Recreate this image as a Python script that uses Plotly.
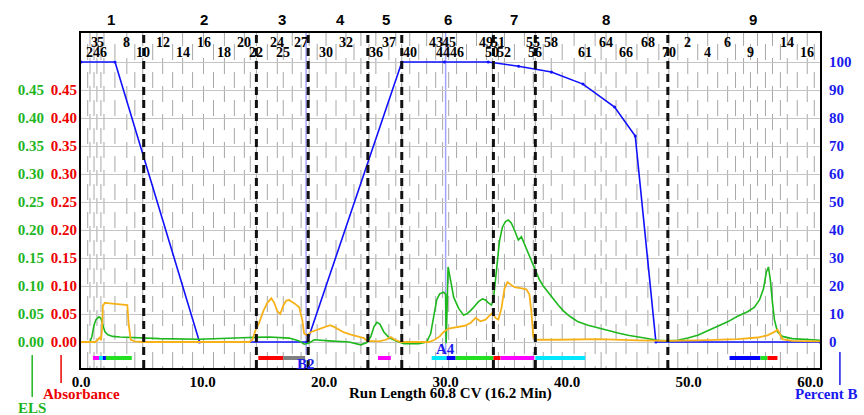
import plotly.graph_objects as go

# ---------------- chromatogram data (x in column volumes, CV) ----------------
# ELS detector trace
els_x = [0.0, 0.74, 0.90, 1.07, 1.23, 1.48, 1.64, 1.80, 1.97, 2.21, 2.62, 3.20, 4.02, 5.08,
         6.48, 9.75, 12.2, 13.85, 15.49, 17.13, 17.95, 18.36, 18.77, 19.18, 20.41, 22.05,
         23.03, 23.52, 23.85, 24.10, 24.34, 24.59, 24.92, 25.33, 25.90, 26.56, 27.79, 28.44,
         28.77, 29.02, 29.26, 29.51, 29.84, 30.00, 30.04, 30.12, 30.20, 30.41, 30.66, 31.07,
         31.48, 31.72, 32.05, 32.38, 32.70, 33.03, 33.28, 33.52, 33.77, 33.93, 34.10, 34.26,
         34.43, 34.67, 34.92, 35.16, 35.41, 35.66, 35.82, 35.98, 36.23, 36.48, 36.72, 36.97,
         37.21, 37.46, 37.70, 38.03, 38.44, 38.85, 39.26, 39.67, 40.08, 40.49, 40.90, 41.72,
         42.54, 43.36, 44.18, 45.00, 45.82, 46.64, 47.46, 48.28, 49.10, 49.92, 50.74, 51.56,
         52.38, 53.20, 54.02, 54.84, 55.41, 55.82, 56.15, 56.39, 56.56, 56.72, 56.89, 57.05,
         57.30, 57.70, 58.52, 59.75, 60.8]
els_y = [0.0, 0.0, 0.010, 0.030, 0.040, 0.045, 0.042, 0.028, 0.018, 0.013, 0.010, 0.009, 0.008, 0.007,
         0.006, 0.005, 0.006, 0.008, 0.009, 0.007, 0.002, -0.004, -0.002, 0.004, 0.002, 0.0,
         -0.005, -0.001, 0.010, 0.027, 0.035, 0.032, 0.018, 0.008, 0.002, -0.003, -0.003, 0.0,
         0.015, 0.045, 0.075, 0.086, 0.089, 0.085, -0.002, 0.060, 0.134, 0.110, 0.080, 0.060,
         0.048, 0.050, 0.056, 0.064, 0.072, 0.077, 0.075, 0.070, 0.066, 0.075, 0.110, 0.150,
         0.180, 0.205, 0.215, 0.218, 0.212, 0.200, 0.190, 0.182, 0.188, 0.175, 0.160, 0.148,
         0.138, 0.122, 0.112, 0.100, 0.088, 0.078, 0.066, 0.056, 0.048, 0.042, 0.036, 0.030,
         0.025, 0.020, 0.016, 0.012, 0.009, 0.006, 0.003, 0.002, 0.003, 0.007, 0.012, 0.020,
         0.028, 0.036, 0.046, 0.054, 0.062, 0.075, 0.095, 0.125, 0.134, 0.110, 0.070, 0.040,
         0.018, 0.010, 0.006, 0.004, 0.003]

# UV absorbance trace
abs_x = [0.0, 1.15, 1.39, 1.56, 1.64, 1.72, 1.80, 1.97, 2.38, 2.79, 3.20, 3.61, 3.81, 3.93,
         4.10, 4.43, 5.08, 13.85, 14.10, 14.34, 14.67, 15.00, 15.33, 15.66, 15.90, 16.15,
         16.39, 16.64, 16.89, 17.13, 17.38, 17.62, 17.95, 18.20, 18.36, 18.61, 18.93, 19.43,
         20.00, 20.49, 20.82, 21.23, 21.64, 22.21, 22.87, 23.28, 23.52, 24.51, 25.08, 25.49,
         25.82, 26.31, 28.61, 29.10, 29.51, 29.84, 30.25, 30.90, 31.56, 32.05, 32.46, 32.87,
         33.28, 33.61, 33.85, 34.10, 34.34, 34.59, 34.84, 35.08, 35.33, 35.66, 36.15, 36.64,
         36.89, 37.05, 37.21, 37.38, 39.26, 42.54, 45.82, 48.28, 50.74, 54.02, 55.66, 56.48,
         57.05, 57.30, 57.46, 57.70, 58.52, 60.8]
abs_y = [0.0, 0.0, 0.004, 0.009, 0.003, 0.020, 0.065, 0.070, 0.069, 0.068, 0.068, 0.067, 0.066, 0.030,
         0.004, 0.001, 0.0, 0.0, 0.004, 0.020, 0.035, 0.055, 0.070, 0.078, 0.070, 0.055,
         0.050, 0.065, 0.074, 0.075, 0.072, 0.068, 0.062, 0.040, 0.015, 0.012, 0.018, 0.022,
         0.026, 0.030, 0.027, 0.022, 0.017, 0.013, 0.010, 0.007, 0.002, 0.001, 0.004, 0.009,
         0.004, 0.0, 0.0, 0.004, 0.010, 0.018, 0.024, 0.026, 0.029, 0.034, 0.043, 0.037,
         0.040, 0.047, 0.052, 0.043, 0.040, 0.060, 0.095, 0.107, 0.103, 0.098, 0.096, 0.094,
         0.085, 0.055, 0.010, 0.004, 0.004, 0.005, 0.003, 0.002, 0.003, 0.005, 0.008, 0.012,
         0.018, 0.022, 0.016, 0.005, 0.002, 0.001]

# Gradient programme (% solvent B)
pctb_x = [0.0, 2.8, 9.75, 18.6, 26.4, 29.9, 33.5, 36.0, 38.7, 41.3, 43.9, 45.6, 47.3, 60.8]
pctb_y = [100, 100, 0, 0, 100, 100, 100, 98.5, 96.4, 92.1, 83.9, 73.6, 0, 0]

# Fraction collector: tube change positions (CV)
rack1_tubes = [0.55, 0.74, 1.07, 1.31, 1.64, 1.89, 2.79, 3.77, 4.43, 5.08,
               5.90, 6.72, 7.54, 8.36, 9.18, 10.08, 10.90, 11.80, 12.62, 13.44,
               13.93, 14.43, 15.33, 16.15, 16.64, 17.38, 18.11, 18.77, 19.43, 20.16,
               20.98, 21.80, 22.46, 23.03, 23.69, 24.26, 25.33, 25.90, 26.39, 27.05,
               27.79, 28.44, 29.18, 29.75, 30.25, 30.90, 31.72, 32.54, 33.36, 33.85,
               34.34, 34.84, 35.66, 36.48, 37.21, 37.38, 38.03, 38.69, 39.59, 40.57,
               41.48, 42.30, 42.79, 43.20, 44.02, 44.84, 45.74, 46.64, 47.54, 48.36]
rack2_tubes = [49.10, 49.92, 50.74, 51.56, 52.38, 53.20, 53.85, 54.51, 55.08, 55.66,
               56.31, 56.89, 57.54, 58.11, 58.93, 59.75, 60.33]
rack1_upper = [3, 5, 8, 12, 16, 20, 24, 27, 32, 37, 43, 45, 49, 51, 55, 58, 64, 68]
rack1_lower = [2, 4, 6, 10, 14, 18, 22, 25, 30, 36, 40, 44, 46, 50, 52, 56, 61, 66, 70]
rack2_upper = [2, 6, 14]
rack2_lower = [4, 9, 16]

# Pooled fractions
fraction_bounds = [5.16, 14.43, 18.69, 23.6, 26.39, 33.93, 37.38, 48.28]
fraction_names = ["1", "2", "3", "4", "5", "6", "7", "8", "9"]
fraction_centers = [2.46, 10.08, 16.56, 21.31, 25.08, 30.16, 35.66, 43.2, 55.25]

# Rack / tube colour bar segments
bar_start = [0.98, 1.48, 1.80, 2.05, 14.59, 16.64, 24.43, 28.85, 30.08, 30.82, 33.93, 34.51, 37.38, 53.36, 55.90, 56.48]
bar_end = [1.48, 1.80, 2.05, 4.18, 16.64, 18.44, 25.49, 30.08, 30.82, 33.93, 34.51, 37.30, 41.48, 55.90, 56.48, 57.30]
bar_color = ["#ff00ff", "#00e8ff", "#0000ff", "#22e022", "#ff0000", "#808080", "#ff00ff", "#00e8ff",
             "#0000ff", "#22e022", "#ff0000", "#ff00ff", "#00e8ff", "#0000ff", "#22e022", "#ff0000"]
bar_level = -0.0286

# Event marks
event_x = [18.52, 30.0]
event_names = ["B2", "A4"]
event_label_y = [0.012, 0.057]

x_ticks = [0, 10, 20, 30, 40, 50, 60]
abs_ticks = [0.0, 0.05, 0.10, 0.15, 0.20, 0.25, 0.30, 0.35, 0.40, 0.45, 0.50]
pct_ticks = [0, 10, 20, 30, 40, 50, 60, 70, 80, 90, 100]

# ---------------- styling ----------------
GREEN_TXT = "#1fb51f"
RED_TXT = "#ee0000"
BLUE_TXT = "#1a1aee"
SERIF = "Liberation Serif"
abs_range = [-26 / 560, 309 / 560]
pct_range = [v * 200 for v in abs_range]
PW, PH = 742, 335  # plot area size in px, for paper-relative placement

fig = go.Figure()

# gradient on the base (right-hand) axis so it sits under the detector traces
fig.add_trace(go.Scatter(x=pctb_x, y=pctb_y, mode="lines+markers", yaxis="y",
                         line=dict(color="#1010ff", width=1.6),
                         marker=dict(size=3, color="#1010ff"), hoverinfo="skip"))
fig.add_trace(go.Scatter(x=els_x, y=els_y, mode="lines", yaxis="y2",
                         line=dict(color="#1db81d", width=1.6)))
fig.add_trace(go.Scatter(x=abs_x, y=abs_y, mode="lines", yaxis="y3",
                         line=dict(color="#f7b21a", width=1.8)))
for s, e, c in zip(bar_start, bar_end, bar_color):
    fig.add_trace(go.Scatter(x=[s, e], y=[bar_level, bar_level], mode="lines", yaxis="y3",
                             line=dict(color=c, width=4)))

shapes = []
# tube change marks (staggered grey dashes)
all_tubes = rack1_tubes + rack2_tubes
for i, t in enumerate(all_tubes):
    dash = "16px,12px" if i % 2 == 0 else "2px,12px,14px,0px"
    shapes.append(dict(type="line", xref="x", yref="paper", x0=t, x1=t, y0=0, y1=1,
                       line=dict(color="#a8a8a8", width=1, dash=dash), layer="below"))
# pooled fraction boundaries
for b in fraction_bounds:
    shapes.append(dict(type="line", xref="x", yref="paper", x0=b, x1=b, y0=0, y1=1,
                       line=dict(color="#111111", width=3, dash="8px,5px"), layer="above"))
# event marks
for ex in event_x:
    shapes.append(dict(type="line", xref="x", yref="paper", x0=ex, x1=ex, y0=0.04, y1=1,
                       line=dict(color="rgba(90,90,255,0.55)", width=1.5), layer="below"))
# short coloured keys under each value axis
shapes.append(dict(type="line", xref="paper", yref="paper", x0=-49 / PW, x1=-49 / PW,
                   y0=13 / PH, y1=-29 / PH, line=dict(color=GREEN_TXT, width=1.5)))
shapes.append(dict(type="line", xref="paper", yref="paper", x0=-20 / PW, x1=-20 / PW,
                   y0=13 / PH, y1=-15 / PH, line=dict(color=RED_TXT, width=1.5)))
shapes.append(dict(type="line", xref="paper", yref="paper", x0=762 / PW, x1=762 / PW,
                   y0=16 / PH, y1=-17 / PH, line=dict(color=BLUE_TXT, width=1.5)))

annotations = []
tube_font = dict(family=SERIF, size=14, color="black", weight="bold")
for rack, upper, lower in ((rack1_tubes, rack1_upper, rack1_lower),
                           (rack2_tubes, rack2_upper, rack2_lower)):
    for n in upper:
        annotations.append(dict(x=rack[n - 1], y=0.973, xref="x", yref="paper", text=str(n),
                                showarrow=False, font=tube_font, xanchor="center", yanchor="middle"))
    for n in lower:
        annotations.append(dict(x=rack[n - 1], y=0.943, xref="x", yref="paper", text=str(n),
                                showarrow=False, font=tube_font, xanchor="center", yanchor="middle"))
for name, cx in zip(fraction_names, fraction_centers):
    annotations.append(dict(x=cx, y=1.039, xref="x", yref="paper", text=name, showarrow=False,
                            font=dict(family="Liberation Sans", size=15, color="black", weight="bold"),
                            xanchor="center", yanchor="middle"))
for name, ex, ey in zip(event_names, event_x, event_label_y):
    annotations.append(dict(x=ex, y=ey, xref="x", yref="paper", text=name, showarrow=False,
                            font=dict(family=SERIF, size=15, color=BLUE_TXT, weight="bold"),
                            xanchor="center", yanchor="middle"))
annotations += [
    dict(x=0.5, y=-26 / PH, xref="paper", yref="paper", text="Run Length 60.8 CV (16.2 Min)",
         showarrow=False, font=dict(family=SERIF, size=15, color="black", weight="bold"),
         xanchor="center", yanchor="middle"),
    dict(x=1 / PW, y=-26 / PH, xref="paper", yref="paper", text="Absorbance", showarrow=False,
         font=dict(family=SERIF, size=15, color=RED_TXT, weight="bold"),
         xanchor="center", yanchor="middle"),
    dict(x=-49 / PW, y=-40 / PH, xref="paper", yref="paper", text="ELS", showarrow=False,
         font=dict(family=SERIF, size=15, color=GREEN_TXT, weight="bold"),
         xanchor="center", yanchor="middle"),
    dict(x=749 / PW, y=-26 / PH, xref="paper", yref="paper", text="Percent B", showarrow=False,
         font=dict(family=SERIF, size=15, color=BLUE_TXT, weight="bold"),
         xanchor="center", yanchor="middle"),
]

fig.update_layout(
    width=864, height=415,
    margin=dict(l=81, r=41, t=33, b=47),
    paper_bgcolor="white", plot_bgcolor="white",
    showlegend=False,
    font=dict(family=SERIF),
    xaxis=dict(range=[0, 60.8], tickvals=x_ticks, ticktext=[f"{v:.1f}" for v in x_ticks],
               tickfont=dict(family=SERIF, size=15, color="black", weight="bold"),
               showgrid=False, zeroline=False, showline=True, mirror=True,
               linecolor="black", linewidth=2, ticks="", ticklabelstandoff=-1),
    yaxis=dict(range=pct_range, side="right", tickvals=pct_ticks,
               tickfont=dict(family=SERIF, size=15, color=BLUE_TXT, weight="bold"),
               showgrid=True, gridcolor="#c4c4c4", gridwidth=1, zeroline=False,
               showline=True, mirror=True, linecolor="black", linewidth=2, ticks="",
               ticklabelstandoff=4),
    yaxis2=dict(range=abs_range, overlaying="y", side="left", anchor="x",
                tickvals=abs_ticks, ticktext=[f"{v:.2f}" for v in abs_ticks[:-1]] + [""],
                tickfont=dict(family=SERIF, size=15, color=GREEN_TXT, weight="bold"),
                showgrid=False, zeroline=False, showline=False, ticks="",
                ticklabelstandoff=36),
    yaxis3=dict(range=abs_range, overlaying="y", side="left", anchor="x",
                tickvals=abs_ticks, ticktext=[f"{v:.2f}" for v in abs_ticks[:-1]] + [""],
                tickfont=dict(family=SERIF, size=15, color=RED_TXT, weight="bold"),
                showgrid=False, zeroline=False, showline=False, ticks="",
                ticklabelstandoff=3),
    shapes=shapes,
    annotations=annotations,
)

fig.write_html("out.html")
